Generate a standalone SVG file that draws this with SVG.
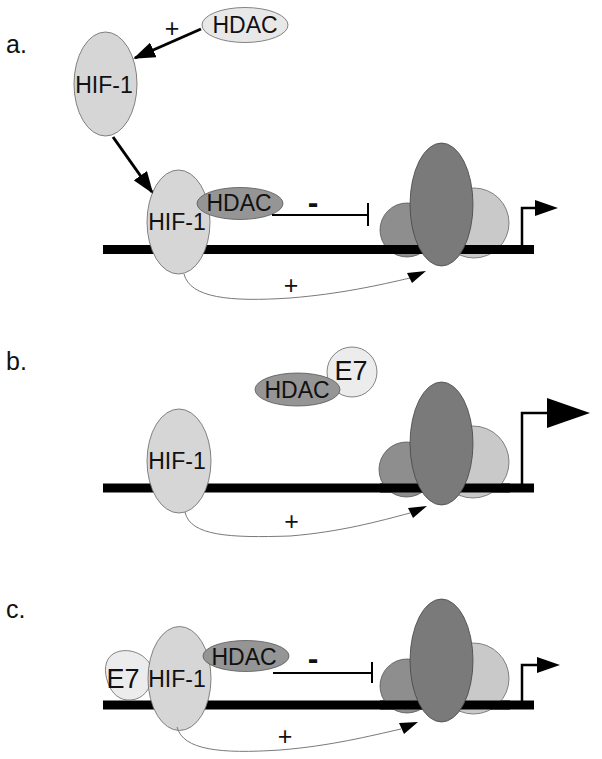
<svg xmlns="http://www.w3.org/2000/svg" width="602" height="759" viewBox="0 0 602 759">
<style>
text{font-family:"Liberation Sans",Arial,sans-serif;fill:#111;text-anchor:middle}
.lbl{font-size:25px;text-anchor:start}
.t{font-size:23px}
.e7{font-size:27px}
.plus{font-size:25px}
.minus{font-size:32px;font-weight:bold}
.hif{fill:#d6d6d6;stroke:#666;stroke-width:0.8}
.hdacL{fill:#e8e8e8;stroke:#666;stroke-width:0.8}
.hdacD{fill:#959595;stroke:#555;stroke-width:0.8}
.e7s{fill:#ececec;stroke:#666;stroke-width:0.8}
.pol{fill:#7a7a7a;stroke:#444;stroke-width:0.8}
.lc{fill:#8e8e8e;stroke:#555;stroke-width:0.8}
.rc{fill:#c9c9c9;stroke:#666;stroke-width:0.8}
.dna{stroke:#000;stroke-width:9;fill:none}
.thick{stroke:#000;stroke-width:3;fill:none}
.inh{stroke:#000;stroke-width:2;fill:none}
.prom{stroke:#000;stroke-width:2.5;fill:none}
.curve{stroke:#7a7a7a;stroke-width:1;fill:none}
.head{fill:#000}
</style>
<defs>
<marker id="ah" markerUnits="userSpaceOnUse" markerWidth="22" markerHeight="16" refX="20" refY="8" orient="auto">
<path d="M0,0 L22,8 L0,16 z" fill="#000"/>
</marker>
</defs>

<text class="lbl" x="6" y="53">a.</text>
<text class="lbl" x="6" y="370">b.</text>
<text class="lbl" x="6" y="618">c.</text>

<!-- DNA strands -->
<g id="dna">
<line class="dna" x1="103" y1="249.5" x2="534" y2="249.5"/>
<line class="dna" x1="103" y1="488" x2="534" y2="488"/>
<line class="dna" x1="103" y1="705" x2="534" y2="705"/>
</g>

<!-- Panel a -->
<g id="a-hdac-free"><ellipse class="hdacL" cx="245" cy="25" rx="43" ry="17.5"/><text class="t" x="245" y="33">HDAC</text></g>
<g id="a-hif-free"><ellipse class="hif" cx="105.5" cy="84" rx="31.5" ry="52"/><text class="t" x="104" y="93">HIF-1</text></g>
<g id="a-hif"><ellipse class="hif" cx="178.5" cy="222" rx="31.5" ry="52"/><text class="t" x="177" y="230">HIF-1</text></g>
<g id="a-hdac"><ellipse class="hdacD" cx="240" cy="203.5" rx="43" ry="16"/><text class="t" x="239" y="211">HDAC</text></g>
<g id="a-complex">
<circle class="rc" cx="474" cy="223" r="35"/>
<circle class="lc" cx="407" cy="230" r="27"/>
<line class="dna" x1="380" y1="249.5" x2="510" y2="249.5"/>
<ellipse class="pol" cx="441.5" cy="204.5" rx="31.5" ry="61.5"/>
</g>

<!-- Panel b -->
<g id="b-hif"><ellipse class="hif" cx="179" cy="461" rx="32" ry="52"/><text class="t" x="177" y="469">HIF-1</text></g>
<g id="b-e7"><circle class="e7s" cx="352" cy="372" r="25"/><text class="e7" x="351" y="380">E7</text></g>
<g id="b-hdac"><ellipse class="hdacD" cx="297.5" cy="389.5" rx="42.5" ry="16.5"/><text class="t" x="297" y="398">HDAC</text></g>
<g id="b-complex">
<circle class="rc" cx="473" cy="462" r="36"/>
<circle class="lc" cx="406.5" cy="469.5" r="27.5"/>
<line class="dna" x1="380" y1="488" x2="510" y2="488"/>
<ellipse class="pol" cx="441.5" cy="443.5" rx="31.5" ry="61.5"/>
</g>

<!-- Panel c -->
<g id="c-e7"><path class="e7s" d="M150,664 C142,651 124,647 113,654 C104,660 104,672 108,683 C112,694 120,701 131,700 C143,699 151,689 151,678 Z"/><text class="e7" x="123" y="688">E7</text></g>
<g id="c-hif"><ellipse class="hif" cx="179.5" cy="678.5" rx="31.5" ry="52"/><text class="t" x="177" y="687">HIF-1</text></g>
<g id="c-hdac"><ellipse class="hdacD" cx="246" cy="656" rx="43" ry="15.5"/><text class="t" x="244" y="665">HDAC</text></g>
<g id="c-complex">
<circle class="rc" cx="473.5" cy="678.5" r="35.5"/>
<circle class="lc" cx="407" cy="686" r="27"/>
<line class="dna" x1="380" y1="705" x2="510" y2="705"/>
<ellipse class="pol" cx="441.5" cy="660.5" rx="31.5" ry="61.5"/>
</g>

<g id="connectors">
<!-- panel a -->
<line class="thick" x1="201" y1="29" x2="135" y2="58" marker-end="url(#ah)"/>
<text class="plus" x="172" y="37">+</text>
<line class="thick" x1="113" y1="137" x2="152" y2="192" marker-end="url(#ah)"/>
<path class="inh" d="M272,215 H368 M368,203 V226"/>
<text class="minus" x="313" y="213">-</text>
<path class="curve" d="M184,274 C190,298 230,302 290,298 C340,294 380,285 410,278"/>
<polygon class="head" points="407,273 426,271 412,283"/>
<text class="plus" x="291" y="294">+</text>
<path class="prom" d="M522,249 V208 H537"/>
<polygon class="head" points="535,200 558,208 535,216"/>

<!-- panel b -->
<path class="curve" d="M185,512 C190,536 230,538 290,536 C340,532 380,521 410,513"/>
<polygon class="head" points="408,508 427,506 413,518"/>
<text class="plus" x="291.5" y="530">+</text>
<path class="prom" d="M522,488 V413 H549"/>
<polygon class="head" points="547,398 590,413 547,428"/>

<!-- panel c -->
<path class="inh" d="M273,673 H372 M372,662 V683"/>
<text class="minus" x="313" y="669">-</text>
<path class="curve" d="M177,727 C183,750 220,754 280,750 C330,746 370,736 401,729"/>
<polygon class="head" points="399,723 418,722 404,734"/>
<text class="plus" x="285" y="745">+</text>
<path class="prom" d="M522,705 V665 H539"/>
<polygon class="head" points="537,657 560,665 537,673"/>
</g>
</svg>
